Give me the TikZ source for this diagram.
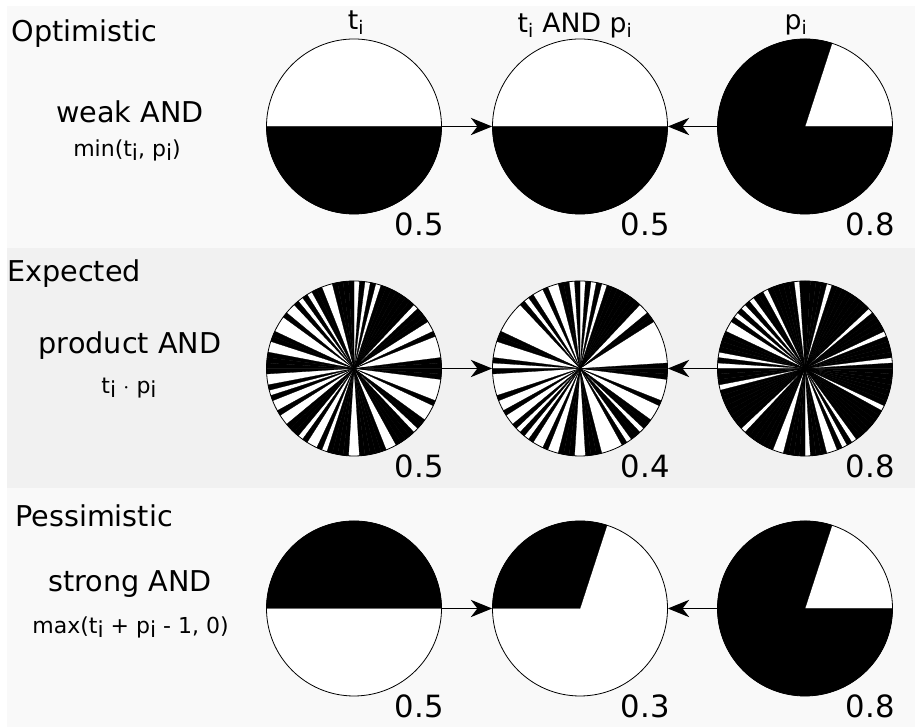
\documentclass[tikz,border=0pt]{standalone}
\usepackage{fontspec}
\setmainfont{DejaVu Sans}
\usetikzlibrary{arrows.meta}
\definecolor{bandlight}{HTML}{F9F9F9}
\definecolor{banddark}{HTML}{F1F1F1}
\newcommand\lowi{\raisebox{-.3ex}{i}}
\newcommand\pieslice[3]{\fill[draw, line width=.2pt] (#1) -- ++(#2:87.5) arc[start angle=#2, end angle=#3, radius=87.5] -- cycle;}
\begin{document}
\begin{tikzpicture}[x=.75pt, y=.75pt,
  disc/.style={circle, draw, line width=.6pt, minimum size=131.25pt, inner sep=0pt},
  flow/.style={-{Stealth[length=16pt, width=13pt, inset=5pt]}, line width=.9pt},
  title/.style={anchor=base west, inner sep=0pt, font=\fontsize{21.5}{24}\selectfont},
  kind/.style={anchor=base, inner sep=0pt, font=\fontsize{21.5}{24}\selectfont},
  formula/.style={anchor=base, inner sep=0pt, font=\fontsize{16.5}{19}\selectfont},
  head/.style={anchor=base, inner sep=0pt, font=\fontsize{20}{24}\selectfont},
  value/.style={anchor=base east, inner sep=0pt, font=\fontsize{23}{24}\selectfont}]
\useasboundingbox (0,0) rectangle (915,727);
\fill[white] (0,0) rectangle (915,727);
\fill[bandlight] (7,479) rectangle (915,721);
\fill[banddark] (7,239) rectangle (915,479);
\fill[bandlight] (7,0) rectangle (915,239);

% centres of the discs
\foreach \r/\y in {1/600.5,2/358.5,3/118.5}
  \foreach \c/\x in {1/354,2/580,3/805}
    \coordinate (o\r\c) at (\x,\y);
\foreach \r in {1,2,3}
  \foreach \c in {1,2,3}
    \fill[white] (o\r\c) circle[radius=87.5];

% optimistic
\pieslice{o11}{180}{360}
\pieslice{o12}{180}{360}
\pieslice{o13}{72}{360}
% pessimistic
\pieslice{o31}{0}{180}
\pieslice{o32}{72}{180}
\pieslice{o33}{72}{360}
% expected: random slices
\pgfmathsetseed{42}
\foreach \k in {0,...,99}{
  \pgfmathsetmacro\a{3.6*\k}
  \pgfmathsetmacro\b{3.6*\k+3.6}
  \pgfmathtruncatemacro\tb{rnd<0.5}
  \pgfmathtruncatemacro\pb{rnd<0.8}
  \ifnum\tb=1 \pieslice{o21}{\a}{\b} \fi
  \ifnum\pb=1 \pieslice{o23}{\a}{\b} \fi
  \ifnum\tb\pb=11 \pieslice{o22}{\a}{\b} \fi
}

\foreach \r in {1,2,3}{
  \node[disc] (t\r) at (o\r1) {};
  \node[disc] (tp\r) at (o\r2) {};
  \node[disc] (p\r) at (o\r3) {};
  \draw[flow] (t\r) -- (tp\r);
  \draw[flow] (p\r) -- (tp\r);
}

\node[value] (vt1) at ([shift={(2,-109)}]t1.east) {0.5};
\node[value] (vtp1) at ([shift={(2,-109)}]tp1.east) {0.5};
\node[value] (vp1) at ([shift={(2,-109)}]p1.east) {0.8};
\node[value] (vt2) at ([shift={(2,-109)}]t2.east) {0.5};
\node[value] (vtp2) at ([shift={(2,-109)}]tp2.east) {0.4};
\node[value] (vp2) at ([shift={(2,-109)}]p2.east) {0.8};
\node[value] (vt3) at ([shift={(2,-109)}]t3.east) {0.5};
\node[value] (vtp3) at ([shift={(2,-109)}]tp3.east) {0.3};
\node[value] (vp3) at ([shift={(2,-109)}]p3.east) {0.8};

\node[head] (ht) at (356,697) {t\textsubscript{i}};
\node[head] (htp) at (575,694) {t\textsubscript{i} AND p\textsubscript{i}};
\node[head] (hp) at (796,697) {p\textsubscript{i}};

\node[title] (opt) at (11.5,685) {Optimistic};
\node[kind] (weak) at (130,604) {weak AND};
\node[formula] (fweak) at (127,570) {min(t\lowi, p\lowi)};
\node[title] (exp) at (7,445) {Expected};
\node[kind] (prod) at (130,373) {product AND};
\node[formula] (fprod) at (129,333) {t\lowi{} $\cdot$ p\lowi};
\node[title] (pes) at (15,200) {Pessimistic};
\node[kind] (strong) at (130,135) {strong AND};
\node[formula] (fstrong) at (130.5,93) {max(t\lowi{} + p\lowi{} - 1, 0)};
\end{tikzpicture}
\end{document}
